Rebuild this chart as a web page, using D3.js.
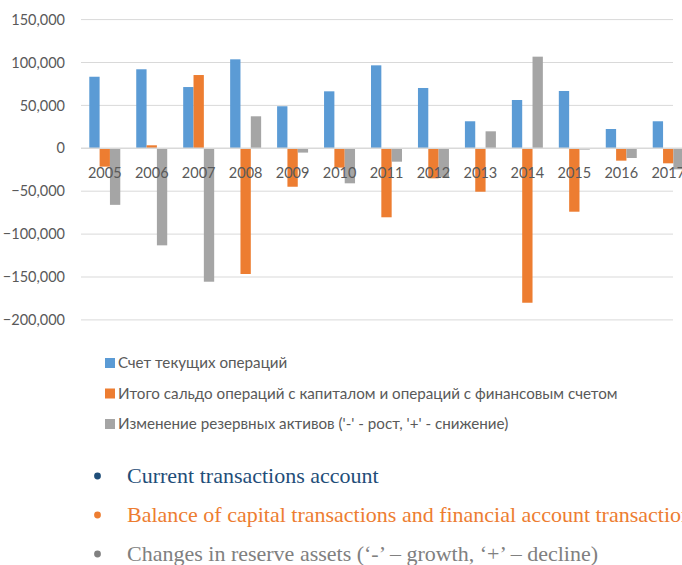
<!DOCTYPE html>
<html>
<head>
<meta charset="utf-8">
<script src="https://cdn.jsdelivr.net/npm/d3@7"></script>
<style>
  body { margin: 0; background: #fff; }
  svg { display: block; }
</style>
</head>
<body>
<svg id="chart" width="682" height="565"></svg>
<script>
// Balance of payments components, millions USD
const years = ["2005", "2006", "2007", "2008", "2009", "2010", "2011", "2012", "2013", "2014", "2015", "2016", "2017"];
const currentAccount = [83400, 92100, 71400, 103700, 49000, 66400, 96700, 70300, 31500, 56300, 66800, 22500, 31500];
const capitalFinancial = [-21400, 3500, 85400, -146500, -44800, -22500, -80400, -35000, -50600, -180000, -73900, -14400, -17500];
const reserveChange = [-65900, -113100, -155500, 37300, -5000, -40800, -15600, -33800, 19800, 106800, -1500, -11300, -24500];

const seriesNames = [
  "Счет текущих операций",
  "Итого сальдо операций с капиталом и операций с финансовым счетом",
  "Изменение резервных активов ('-' - рост, '+' - снижение)"
];
const seriesColors = ["#5b9bd5", "#ed7d31", "#a5a5a5"];
const yTicks = [-200000, -150000, -100000, -50000, 0, 50000, 100000, 150000];

const notes = [
  "Current transactions account",
  "Balance of capital transactions and financial account transactions",
  "Changes in reserve assets (\u2018-\u2019 \u2013 growth, \u2018+\u2019 \u2013 decline)"
];
const noteColors = ["#1f4e79", "#ed7d31", "#808080"];

const series = [currentAccount, capitalFinancial, reserveChange];

const svg = d3.select("#chart");
const labelFont = "Lato, 'Open Sans', sans-serif";

const plotLeft = 81, gridRight = 673;

const x = d3.scaleBand()
  .domain(years)
  .range([81.3, 691.7])
  .paddingInner(0.34)
  .paddingOuter(0.17);

const xSeries = d3.scaleBand()
  .domain(d3.range(series.length))
  .range([0, x.bandwidth()]);

const y = d3.scaleLinear()
  .domain([-200000, 150000])
  .range([319.9, 19.6]);

// Horizontal gridlines
svg.append("g")
  .selectAll("line")
  .data(yTicks.filter(d => d !== 0))
  .join("line")
  .attr("x1", plotLeft)
  .attr("x2", gridRight)
  .attr("y1", d => y(d))
  .attr("y2", d => y(d))
  .attr("stroke", "#d9d9d9")
  .attr("stroke-width", 1);

// Bars
const groups = svg.append("g")
  .selectAll("g")
  .data(series)
  .join("g")
  .attr("fill", (d, i) => seriesColors[i]);

groups.selectAll("rect")
  .data((vals, si) => vals.map((v, i) => ({ v, year: years[i], si })))
  .join("rect")
  .attr("x", d => x(d.year) + xSeries(d.si))
  .attr("width", xSeries.bandwidth())
  .attr("y", d => Math.min(y(d.v), y(0)))
  .attr("height", d => Math.abs(y(d.v) - y(0)));

// Zero line
svg.append("line")
  .attr("x1", plotLeft)
  .attr("x2", 700)
  .attr("y1", y(0))
  .attr("y2", y(0))
  .attr("stroke", "#d9d9d9")
  .attr("stroke-width", 1.4);

// Y axis labels
const yAxis = svg.append("g")
  .attr("transform", `translate(${plotLeft},0)`)
  .call(d3.axisLeft(y).tickValues(yTicks).tickFormat(d3.format(",")).tickSize(0).tickPadding(16));
yAxis.select(".domain").remove();
yAxis.selectAll("text")
  .attr("font-family", labelFont)
  .attr("font-size", 14.5)
  .attr("fill", "#595959");

// Category labels, drawn over the bars
const xAxis = svg.append("g")
  .attr("transform", `translate(0,${y(0)})`)
  .call(d3.axisBottom(x).tickSize(0).tickPadding(19.4));
xAxis.select(".domain").remove();
xAxis.selectAll("text")
  .attr("font-family", labelFont)
  .attr("font-size", 14.5)
  .attr("fill", "#595959");

// Legend
const legend = svg.append("g")
  .selectAll("g")
  .data(seriesNames)
  .join("g")
  .attr("transform", (d, i) => `translate(105,${363 + i * 30.5})`);
legend.append("rect")
  .attr("x", 0).attr("y", -5)
  .attr("width", 10).attr("height", 10)
  .attr("fill", (d, i) => seriesColors[i]);
legend.append("text")
  .attr("x", 13)
  .attr("y", 5.3)
  .attr("font-family", labelFont)
  .attr("font-size", 15.2)
  .attr("fill", "#595959")
  .text(d => d);

// Bulleted notes in English
const noteRows = svg.append("g")
  .selectAll("g")
  .data(notes)
  .join("g")
  .attr("transform", (d, i) => `translate(0,${483 + i * 39})`);
noteRows.append("circle")
  .attr("cx", 97.5)
  .attr("cy", -7)
  .attr("r", 3.4)
  .attr("fill", (d, i) => noteColors[i]);
noteRows.append("text")
  .attr("x", 127)
  .attr("y", 0)
  .attr("font-family", "'Liberation Serif', 'Times New Roman', serif")
  .attr("font-size", 22)
  .attr("fill", (d, i) => noteColors[i])
  .text(d => d);
</script>
</body>
</html>
